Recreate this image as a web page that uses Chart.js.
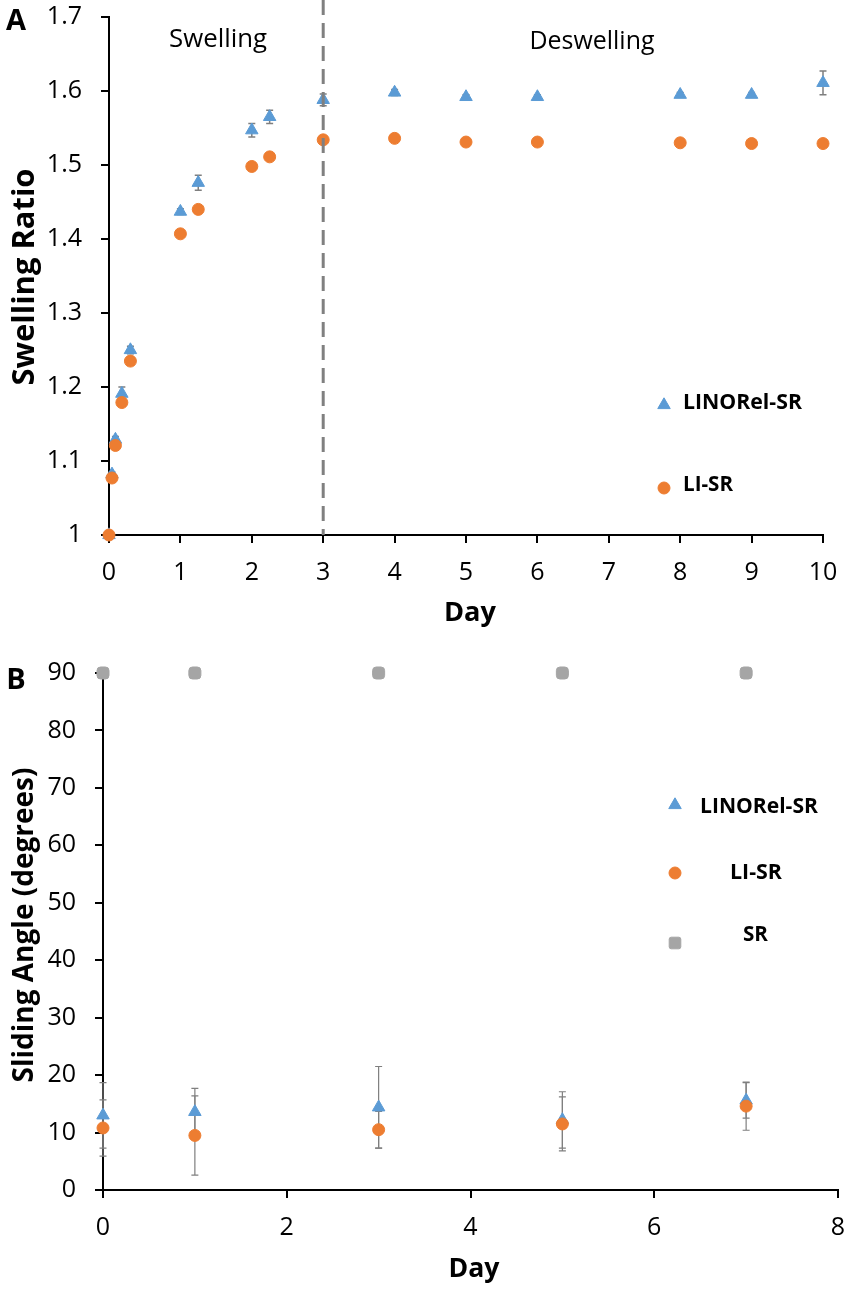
<!DOCTYPE html>
<html><head><meta charset="utf-8">
<script src="https://cdn.jsdelivr.net/npm/chart.js@4"></script>
<style>
html,body{margin:0;padding:0;background:#fff;}
#wrap{position:relative;width:850px;height:1291px;background:#fff;}
canvas{position:absolute;left:0;}
</style></head><body>
<div id="wrap">
<canvas id="cA" width="850" height="640" style="top:0"></canvas>
<canvas id="cB" width="850" height="651" style="top:640px"></canvas>
</div>
<script>
// ---------- Panel A data ----------
const daysA = [0, 0.042, 0.09, 0.18, 0.3, 1, 1.25, 2, 2.25, 3, 4, 5, 6, 8, 9, 10];
const linorelA = [1.0, 1.082, 1.129, 1.191, 1.25, 1.437, 1.476, 1.547, 1.565, 1.588, 1.598, 1.592, 1.592, 1.595, 1.595, 1.611];
const linorelErrA = [0, 0.003, 0.004, 0.009, 0.005, 0.004, 0.010, 0.009, 0.009, 0.008, 0.004, 0.003, 0.003, 0.003, 0.003, 0.016];
const liA = [1.0, 1.077, 1.121, 1.179, 1.235, 1.407, 1.440, 1.498, 1.511, 1.534, 1.536, 1.531, 1.531, 1.530, 1.529, 1.529];
const liErrA = [0, 0.003, 0.003, 0.003, 0.003, 0.003, 0.003, 0.003, 0.003, 0.003, 0.003, 0.003, 0.003, 0.003, 0.003, 0.003];
const phaseBoundaryA = 3;

// ---------- Panel B data ----------
const daysB = [0, 1, 3, 5, 7];
const linorelB = [13.0, 13.6, 14.4, 12.2, 15.6];
const linorelErrB = [5.7, 4.1, 7.1, 4.9, 3.1];
const liB = [10.8, 9.5, 10.5, 11.5, 14.6];
const liErrB = [4.9, 6.9, 3.2, 4.7, 4.2];
const srB = [90, 90, 90, 90, 90];
const srErrB = [0, 0, 0, 0, 0];

const BLUE = '#5B9BD5', ORANGE = '#ED7D31', GRAY = '#A5A5A5';
const FAM = "'Open Sans'";
const TRI_R = 7.2;

function pts(xs, ys){ return xs.map((x,i)=>({x:x, y:ys[i]})); }

const measureCtx = document.createElement('canvas').getContext('2d');
function fitSize(text, weight, target){
  measureCtx.font = weight + ' 100px ' + FAM;
  return 100 * target / measureCtx.measureText(text).width;
}

function marker(ctx, style, x, y, color){
  ctx.save();
  ctx.fillStyle = color; ctx.strokeStyle = color; ctx.lineWidth = 1; ctx.lineJoin='round';
  ctx.beginPath();
  if (style === 'triangle'){
    const r = TRI_R;
    ctx.moveTo(x, y - r);
    ctx.lineTo(x + r*0.866, y + r*0.5);
    ctx.lineTo(x - r*0.866, y + r*0.5);
    ctx.closePath();
  } else if (style === 'circle'){
    ctx.arc(x, y, 6, 0, Math.PI*2);
  } else {
    const s = 5.8, c = 2;
    ctx.moveTo(x-s+c, y-s); ctx.arcTo(x+s, y-s, x+s, y+s, c); ctx.arcTo(x+s, y+s, x-s, y+s, c);
    ctx.arcTo(x-s, y+s, x-s, y-s, c); ctx.arcTo(x-s, y-s, x+s, y-s, c); ctx.closePath();
  }
  ctx.fill(); ctx.stroke();
  ctx.restore();
}

const errorBars = {
  id: 'errorBars',
  beforeDatasetsDraw(chart, args, opts){
    const ctx = chart.ctx, xs = chart.scales.x, ys = chart.scales.y;
    ctx.save();
    ctx.strokeStyle = opts.color; ctx.lineWidth = opts.width;
    chart.data.datasets.forEach(ds=>{
      if (!ds.errors) return;
      ds.data.forEach((p,i)=>{
        const e = ds.errors[i]; if (!e) return;
        const px = xs.getPixelForValue(p.x);
        const y1 = ys.getPixelForValue(p.y - e), y2 = ys.getPixelForValue(p.y + e);
        ctx.beginPath();
        ctx.moveTo(px, y1); ctx.lineTo(px, y2);
        ctx.moveTo(px-opts.cap, y1); ctx.lineTo(px+opts.cap, y1);
        ctx.moveTo(px-opts.cap, y2); ctx.lineTo(px+opts.cap, y2);
        ctx.stroke();
      });
    });
    ctx.restore();
  }
};

const decor = {
  id: 'decor',
  afterDraw(chart, args, opts){
    const ctx = chart.ctx;
    ctx.save();
    if (opts.vline !== undefined){
      const px = chart.scales.x.getPixelForValue(opts.vline);
      ctx.strokeStyle = '#808080'; ctx.lineWidth = 3; ctx.setLineDash([15,8]);
      ctx.beginPath(); ctx.moveTo(px, 0); ctx.lineTo(px, chart.chartArea.bottom); ctx.stroke();
      ctx.setLineDash([]);
    }
    (opts.texts||[]).forEach(t=>{
      const size = t.width ? fitSize(t.text, t.weight, t.width) : t.size;
      ctx.font = t.weight + ' ' + size + 'px ' + FAM;
      ctx.fillStyle = '#000';
      ctx.textBaseline = 'middle';
      ctx.textAlign = t.align || 'center';
      if (t.rot){
        ctx.save(); ctx.translate(t.x, t.y); ctx.rotate(-Math.PI/2);
        ctx.fillText(t.text, 0, 0); ctx.restore();
      } else {
        ctx.fillText(t.text, t.x, t.y);
      }
    });
    (opts.markers||[]).forEach(m=> marker(ctx, m.style, m.x, m.y, m.color));
    ctx.restore();
  }
};

function axisCommon(){
  return {
    grid:{display:true, drawOnChartArea:false, drawTicks:true, tickLength:8, color:'#000', lineWidth:2},
    border:{display:true, color:'#000', width:2},
  };
}
const tickFont = {family:'Open Sans', size:25};
function fixX(h){ return function(s){ s.height = h; s.paddingLeft = 0; s.paddingRight = 0; }; }
function fixY(w){ return function(s){ s.width = w; s.paddingTop = 0; s.paddingBottom = 0; }; }

// ---------- Chart A ----------
new Chart(document.getElementById('cA'), {
  type:'scatter',
  data:{datasets:[
    {label:'LINORel-SR', data:pts(daysA, linorelA), errors:linorelErrA, pointStyle:'triangle', radius:TRI_R,
     backgroundColor:BLUE, borderColor:BLUE, borderWidth:1, order:2, clip:false},
    {label:'LI-SR', data:pts(daysA, liA), errors:liErrA, pointStyle:'circle', radius:6,
     backgroundColor:ORANGE, borderColor:ORANGE, borderWidth:1, order:1, clip:false}
  ]},
  plugins:[errorBars, decor],
  options:{
    responsive:false, animation:false, events:[],
    layout:{padding:{top:17, right:27, left:0, bottom:0}},
    plugins:{
      legend:{display:false}, tooltip:{enabled:false},
      errorBars:{color:'#7f7f7f', width:1.5, cap:3.5},
      decor:{
        vline: phaseBoundaryA,
        texts:[
          {text:'A', weight:'bold', size:29, x:16, y:22},
          {text:'Swelling', weight:'normal', width:98, x:218, y:40},
          {text:'Deswelling', weight:'normal', width:125, x:592, y:42},
          {text:'Swelling Ratio', weight:'bold', width:217, x:25, y:277, rot:true},
          {text:'Day', weight:'bold', width:52, x:470, y:613},
          {text:'LINORel-SR', weight:'bold', width:119, x:683, y:403, align:'left'},
          {text:'LI-SR', weight:'bold', width:50, x:683, y:485, align:'left'}
        ],
        markers:[
          {style:'triangle', x:664, y:405, color:BLUE},
          {style:'circle', x:664, y:488, color:ORANGE}
        ]
      }
    },
    scales:{
      x:Object.assign(axisCommon(), {type:'linear', min:0, max:10,
        ticks:{stepSize:1, padding:15, color:'#000', font:tickFont, maxRotation:0, autoSkip:false},
        afterFit: fixX(105)}),
      y:Object.assign(axisCommon(), {type:'linear', min:1, max:1.7,
        ticks:{stepSize:0.1, padding:19, color:'#000', font:tickFont,
          callback:v=>String(Number(v.toFixed(1)))},
        afterFit: fixY(109)})
    }
  }
});

// ---------- Chart B ----------
new Chart(document.getElementById('cB'), {
  type:'scatter',
  data:{datasets:[
    {label:'LINORel-SR', data:pts(daysB, linorelB), errors:linorelErrB, pointStyle:'triangle', radius:TRI_R,
     backgroundColor:BLUE, borderColor:BLUE, borderWidth:1, order:3, clip:false},
    {label:'LI-SR', data:pts(daysB, liB), errors:liErrB, pointStyle:'circle', radius:6,
     backgroundColor:ORANGE, borderColor:ORANGE, borderWidth:1, order:2, clip:false},
    {label:'SR', data:pts(daysB, srB), errors:srErrB, pointStyle:'rectRounded', radius:7,
     backgroundColor:GRAY, borderColor:GRAY, borderWidth:1, order:1, clip:false}
  ]},
  plugins:[errorBars, decor],
  options:{
    responsive:false, animation:false, events:[],
    layout:{padding:{top:33, right:12, left:0, bottom:0}},
    plugins:{
      legend:{display:false}, tooltip:{enabled:false},
      errorBars:{color:'#7f7f7f', width:1.2, cap:3.5},
      decor:{
        texts:[
          {text:'B', weight:'bold', size:29, x:16, y:41},
          {text:'Sliding Angle (degrees)', weight:'bold', width:315, x:25, y:285, rot:true},
          {text:'Day', weight:'bold', width:51, x:474, y:629},
          {text:'LINORel-SR', weight:'bold', width:118, x:700, y:167, align:'left'},
          {text:'LI-SR', weight:'bold', width:52, x:730, y:233, align:'left'},
          {text:'SR', weight:'bold', width:25, x:743, y:295, align:'left'}
        ],
        markers:[
          {style:'triangle', x:675, y:165, color:BLUE},
          {style:'circle', x:675, y:233, color:ORANGE},
          {style:'square', x:675, y:303, color:GRAY}
        ]
      }
    },
    scales:{
      x:Object.assign(axisCommon(), {type:'linear', min:0, max:8,
        ticks:{stepSize:2, padding:15, color:'#000', font:tickFont, maxRotation:0, autoSkip:false},
        afterFit: fixX(101)}),
      y:Object.assign(axisCommon(), {type:'linear', min:0, max:90,
        ticks:{stepSize:10, padding:19, color:'#000', font:tickFont},
        afterFit: fixY(103)})
    }
  }
});
</script>
</body></html>
